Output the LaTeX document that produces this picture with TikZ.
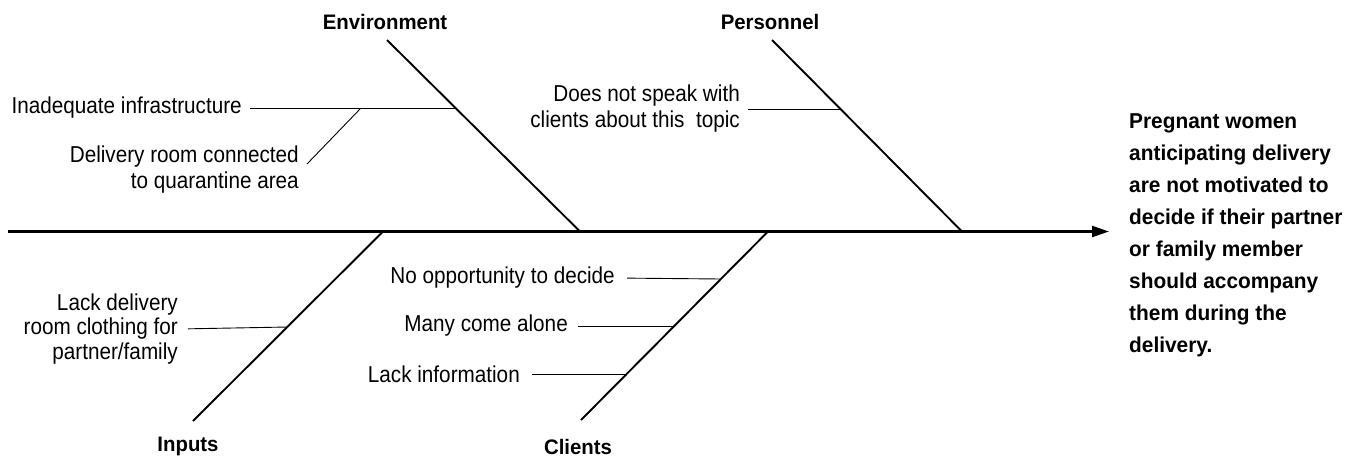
\documentclass[tikz,border=0pt]{standalone}
\usepackage{fontspec}
\setmainfont{Liberation Sans}
\newfontfamily\regf[FakeStretch=0.9]{Liberation Sans}
\newfontfamily\boldf[FakeStretch=0.97]{Liberation Sans}
\usetikzlibrary{arrows.meta}
\begin{document}
\begin{tikzpicture}[x=1pt,y=-1pt,
  cause/.style={inner sep=0pt,align=right,font=\regf\fontsize{23}{26}\selectfont},
  cat/.style={inner sep=0pt,font=\boldf\fontsize{21}{24}\selectfont\bfseries},
  effect/.style={inner sep=0pt,align=left,font=\boldf\fontsize{21.5}{32}\selectfont\bfseries},
  spine/.style={line width=2.4pt},
  bone/.style={line width=1.9pt},
  twig/.style={line width=0.9pt,shorten <=8pt}]
\useasboundingbox (0,0) rectangle (1356,459);
% spine
\coordinate (s0) at (8,231.5);
\coordinate (tip) at (1109,231.5);
\draw[spine,-{Triangle[length=17pt,width=11pt]}] (s0) -- (tip);
% effect
\node[effect,anchor=west] (effect) at (1129,235) {Pregnant women\\anticipating delivery\\are not motivated to\\decide if their partner\\or family member\\should accompany\\them during the\\delivery.};
% categories
\node[cat] (env) at (385,22) {Environment};
\node[cat] (per) at (770,22) {Personnel};
\node[cat] (inp) at (188,446) {Inputs};
\node[cat] (cli) at (578,447) {Clients};
% bones
\coordinate (envT) at (387,40);  \coordinate (envB) at (580,231.5);
\coordinate (perT) at (772,40);  \coordinate (perB) at (962,231.5);
\coordinate (inpT) at (383,231.5); \coordinate (inpB) at (193,421);
\coordinate (cliT) at (768,231.5); \coordinate (cliB) at (581,420);
\draw[bone] (envT) -- (envB);
\draw[bone] (perT) -- (perB);
\draw[bone] (inpT) -- (inpB);
\draw[bone] (cliT) -- (cliB);
% environment causes
\coordinate (e1) at (455.7,108);
\node[cause,anchor=east] (c1) at (242,108) {Inadequate infrastructure};
\draw[twig] (c1.east) -- (e1);
\node[cause,anchor=east] (c2) at (299,170) {Delivery room connected\\to quarantine area};
\coordinate (d1) at (307,164);
\coordinate (d2) at (361,108);
\draw[line width=0.9pt] (d1) -- (d2);
% personnel cause
\coordinate (p1) at (840.6,109);
\node[cause,anchor=east] (c3) at (740,109) {Does not speak with\\clients about this\ \ topic};
\draw[twig] (c3.east) -- (p1);
% inputs cause
\coordinate (i1) at (287.5,327);
\node[cause,anchor=east,font=\regf\fontsize{23}{24.5}\selectfont] (c4) at (178,329) {Lack delivery\\room clothing for\\partner/family};
\draw[twig,shorten <=10pt] (c4.east) -- (i1);
% clients causes
\coordinate (k1) at (721.2,279);
\coordinate (k2) at (674.5,326);
\coordinate (k3) at (626.7,374);
\node[cause,anchor=east] (c5) at (615,278) {No opportunity to decide};
\node[cause,anchor=east] (c6) at (568,326) {Many come alone};
\node[cause,anchor=east] (c7) at (520,374) {Lack information};
\draw[twig,shorten <=12pt] (c5.east) -- (k1);
\draw[twig,shorten <=10pt] (c6.east) -- (k2);
\draw[twig,shorten <=12pt] (c7.east) -- (k3);
\end{tikzpicture}
\end{document}
